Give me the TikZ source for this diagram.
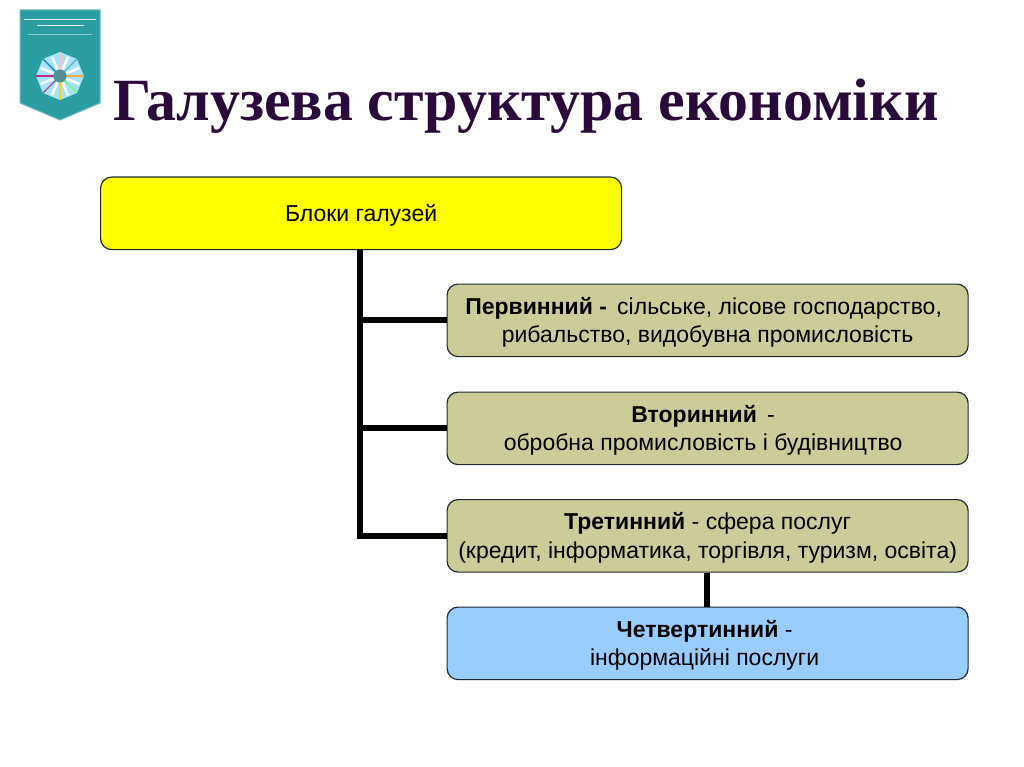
\documentclass[tikz,border=0pt]{standalone}
\usepackage{fontspec}
\setmainfont{Liberation Sans}
\newfontfamily\titlefont{Liberation Serif}
\definecolor{boxline}{HTML}{1F2A33}
\definecolor{olivebox}{HTML}{CCCC99}
\definecolor{bluebox}{HTML}{99CCFF}
\definecolor{yellowbox}{RGB}{255,255,0}
\definecolor{titlecol}{HTML}{2A0A3A}
\definecolor{shieldcol}{HTML}{2A9DA3}
\newcommand{\topfix}{\rule{0pt}{21pt}}
\tikzset{
 x=1pt,y=-1pt,
 blockbox/.style={draw=boxline,line width=1.2pt,rounded corners=11pt,anchor=north west,minimum width=#1,minimum height=72.5pt,inner sep=0pt,align=center,font=\fontsize{23}{28.6}\selectfont},
 link/.style={draw=black,line width=6pt,line cap=butt,line join=miter}
}
\begin{document}
\begin{tikzpicture}
\useasboundingbox (0,0) rectangle (1024,767);
\fill[white] (0,0) rectangle (1024,767);
% shield logo
\fill[shieldcol,draw=shieldcol!70!white,line width=1pt] (20,10) -- (100,10) -- (100,103) -- (60,120) -- (20,103) -- cycle;
\draw[white!85!shieldcol,line width=1pt] (24,20) -- (96,20);
\draw[white!85!shieldcol,line width=.9pt] (37,25.5) -- (84,25.5);
\draw[white!45!shieldcol,line width=.4pt] (28,34) -- (92,34);
\fill[cyan!35!white] (60,76) ++(0:24) -- ++(112.5:18.4) -- ++(157.5:18.4) -- ++(202.5:18.4) -- ++(247.5:18.4) -- ++(292.5:18.4) -- ++(337.5:18.4) -- ++(22.5:18.4) -- cycle;
\foreach \a/\c in {0/orange!70,45/green!60,90/yellow!70!orange,135/violet!70,180/magenta!60!violet,225/cyan!60!blue,270/pink,315/teal!60}{
 \draw[\c,line width=1.3pt] (60,76) -- ++(\a:24);
 \draw[white,line width=2.4pt] (60,76) ++(\a+22.5:7) -- ++(\a+22.5:14);
}
\fill[shieldcol!55!gray] (60,76) circle (6.5);
% title
\node[name=title,anchor=base west,inner sep=0pt,text=titlecol,font=\titlefont\bfseries\fontsize{59.9}{59.9}\selectfont] at (113,121) {Галузева структура економіки};
% boxes
\node[blockbox=521pt,fill=yellowbox] (root) at (100,176.5) {\topfix Блоки галузей};
\node[blockbox=521pt,fill=olivebox] (prim) at (446.5,283.5) {\topfix\textbf{Первинний -}\, сільське, лісове господарство,\hspace*{8pt}\\рибальство, видобувна промисловість};
\node[blockbox=521pt,fill=olivebox] (sec) at (446.5,391.5) {\topfix\textbf{Вторинний}\, -\hspace*{9pt}\\обробна промисловість і будівництво\hspace*{9pt}};
\node[blockbox=521pt,fill=olivebox] (ter) at (446.5,499) {\topfix\textbf{Третинний} - сфера послуг\\(кредит, інформатика, торгівля, туризм, освіта)};
\node[blockbox=521pt,fill=bluebox] (quat) at (446.5,606.5) {\topfix\textbf{Четвертинний} -\hspace*{6pt}\\інформаційні послуги\hspace*{6pt}};
% connectors
\coordinate (trunk) at (360,249);
\draw[link] (root.south -| trunk) -- (trunk |- ter.west) -- (ter.west);
\draw[link] (trunk |- prim.west) -- (prim.west);
\draw[link] (trunk |- sec.west) -- (sec.west);
\draw[link] (ter.south -| 707,0) -- (quat.north -| 707,0);
\end{tikzpicture}
\end{document}
